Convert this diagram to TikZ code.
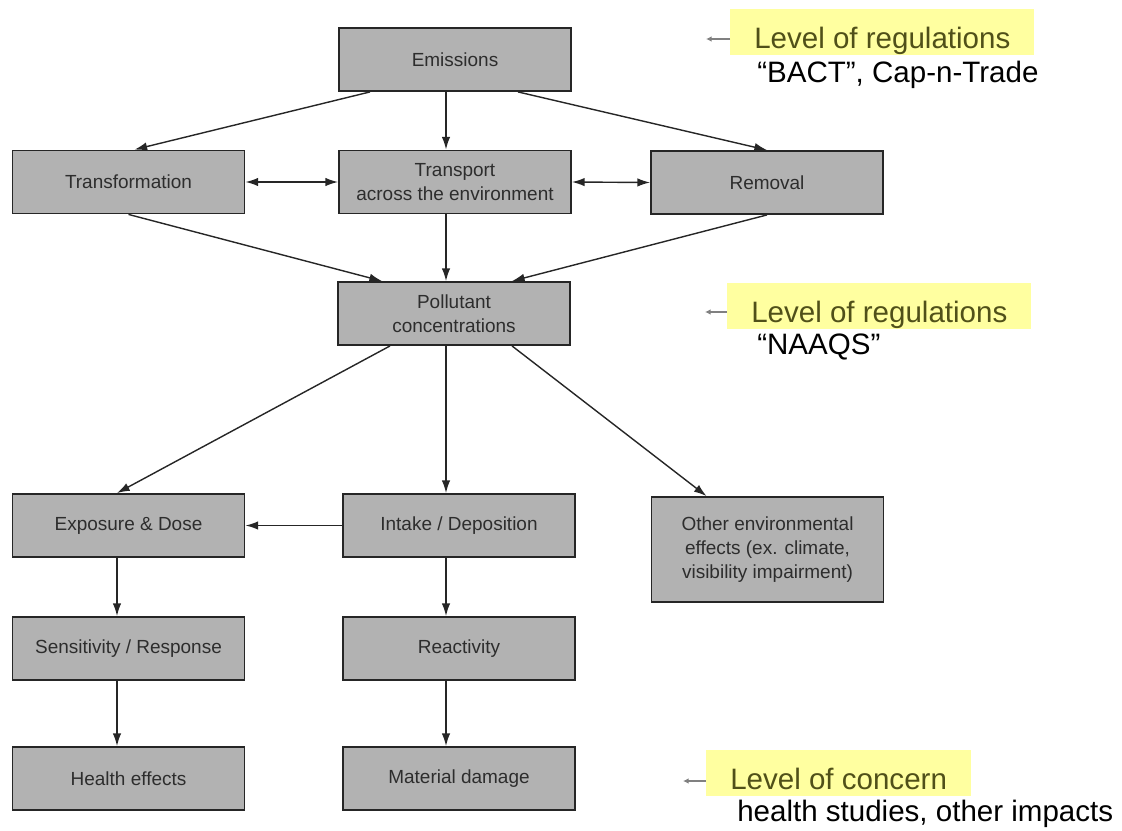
\documentclass[tikz,border=0pt]{standalone}
\usepackage{fontspec}
\setmainfont{Liberation Sans}
\usepackage{tikz}
\usetikzlibrary{positioning,arrows.meta,calc}

\definecolor{boxgray}{RGB}{178,178,178}
\definecolor{boxtext}{RGB}{45,45,45}
\definecolor{marker}{RGB}{255,255,160}
\definecolor{notetext}{RGB}{80,80,25}

\begin{document}
\begin{tikzpicture}[
x=0.025cm, y=-0.025cm, >={Latex[length=9pt,width=6pt]},
stage/.style={rectangle, draw=black!85, fill=boxgray, line width=1.3pt, minimum width=5.8cm, minimum height=1.575cm, align=center, text=boxtext, font=\fontsize{13.5}{17}\selectfont},
flow/.style={->, draw=black!85, line width=1pt},
twoway/.style={<->, draw=black!85, line width=1pt},
note/.style={fill=marker, text=notetext, inner xsep=0.6cm, inner ysep=0pt, text height=28pt, text depth=5pt, anchor=base west, font=\fontsize{21}{25}\selectfont},
remark/.style={anchor=base west, inner sep=0pt, font=\fontsize{21}{25}\selectfont},
pointer/.style={-{Latex[length=4pt,width=4pt]}, draw=gray, line width=1.4pt},
]
\useasboundingbox (0,0) rectangle (1122,830);

% flow chart
\node[stage] (emis) at (455,59.5) {Emissions};
\node[stage] (trans) at (128.5,182) {Transformation};
\node[stage] (transp) at (455,182) {Transport\\across the environment};
\node[stage] (remov) at (767,182.5) {Removal};
\node[stage] (poll) at (454,313.5) {Pollutant\\concentrations};
\node[stage] (expo) at (128.5,525.5) {Exposure \& Dose};
\node[stage] (intake) at (459,525.5) {Intake / Deposition};
\node[stage, minimum height=2.625cm] (other) at (767.5,549.5) {Other environmental\\effects (ex. climate,\\visibility impairment)};
\node[stage] (sens) at (128.5,648.5) {Sensitivity / Response};
\node[stage] (react) at (459,648.5) {Reactivity};
\node[stage] (health) at (128.5,778.5) {Health effects};
\node[stage] (damage) at (459,778.5) {Material damage};

\coordinate (spine) at (446,0);
\coordinate (lspine) at (117,0);

\draw[flow] ($(emis.south)+(-85,0)$) -- ($(trans.north)+(6,0)$);
\draw[flow] (emis.south -| spine) -- (transp.north -| spine);
\draw[flow] ($(emis.south)+(63,0)$) -- (remov.north);
\draw[twoway] (trans.east) -- (transp.west);
\draw[twoway] (transp.east) -- (remov.west);
\draw[flow] (trans.south) -- ($(poll.north)+(-72,0)$);
\draw[flow] (transp.south -| spine) -- (poll.north -| spine);
\draw[flow] (remov.south) -- ($(poll.north)+(58,0)$);
\draw[flow] ($(poll.south)+(-64,0)$) -- (expo.north -| lspine);
\draw[flow] (poll.south -| spine) -- (intake.north -| spine);
\draw[flow] ($(poll.south)+(58,0)$) -- ($(other.north)+(-61,0)$);
\draw[flow] (intake.west) -- (expo.east);
\draw[flow] (expo.south -| lspine) -- (sens.north -| lspine);
\draw[flow] (intake.south -| spine) -- (react.north -| spine);
\draw[flow] (sens.south -| lspine) -- (health.north -| lspine);
\draw[flow] (react.south -| spine) -- (damage.north -| spine);

% levels
\node[note] (lev1) at (730,48) {Level of regulations};
\node[remark] (rem1) at (757,82) {“BACT”, Cap-n-Trade};
\coordinate (p1) at (706,39);
\draw[pointer] (lev1.west |- p1) -- (p1);

\node[note] (lev2) at (727,322) {Level of regulations};
\node[remark] (rem2) at (757,354) {“NAAQS”};
\coordinate (p2) at (705,312);
\draw[pointer] (lev2.west |- p2) -- (p2);

\node[note] (lev3) at (706,789) {Level of concern};
\node[remark] (rem3) at (737,821) {health studies, other impacts};
\coordinate (p3) at (683,781);
\draw[pointer] (lev3.west |- p3) -- (p3);
\end{tikzpicture}
\end{document}
